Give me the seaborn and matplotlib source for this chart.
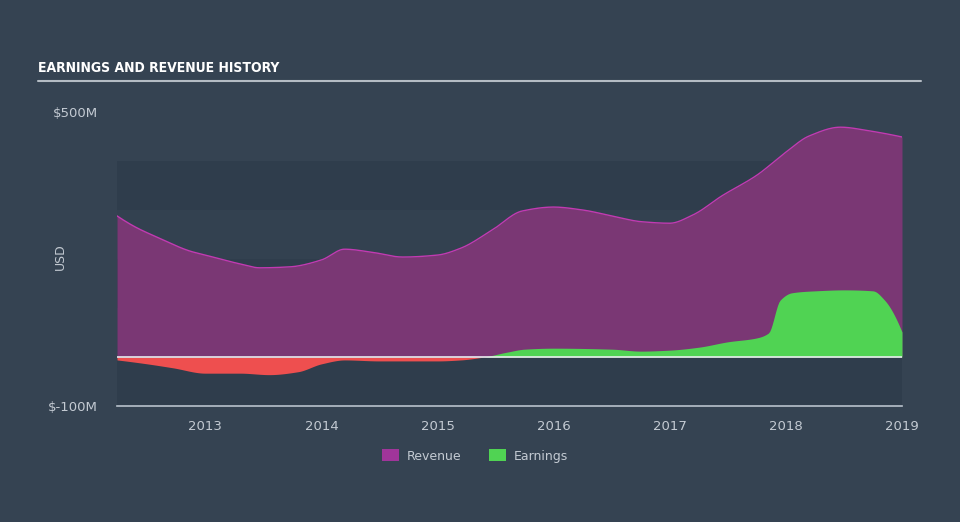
import numpy as np
import pandas as pd
import matplotlib
matplotlib.use("Agg")
import matplotlib.pyplot as plt
import seaborn as sns
from matplotlib.patches import Patch

# ---- data (USD millions) ----
rev_x = [2012.24, 2012.4, 2012.6, 2012.87, 2013.0, 2013.3, 2013.47, 2013.73, 2014.0, 2014.2,
         2014.43, 2014.7, 2015.0, 2015.2, 2015.47, 2015.73, 2016.0, 2016.25, 2016.5, 2016.76,
         2017.0, 2017.2, 2017.45, 2017.75, 2018.0, 2018.2, 2018.47, 2018.73, 2019.0]
revenue = [288, 265, 243, 216, 208, 190, 182, 184, 198, 220,
           214, 204, 208, 222, 259, 298, 306, 300, 288, 276,
           273, 290, 329, 371, 418, 451, 469, 461, 449]

earn_x = [2012.24, 2012.5, 2012.72, 2013.0, 2013.3, 2013.55, 2013.8, 2014.0, 2014.2, 2014.5,
          2015.0, 2015.2, 2015.4, 2015.6, 2015.75, 2016.0, 2016.5, 2016.75, 2017.0, 2017.25,
          2017.5, 2017.75, 2017.85, 2017.95, 2018.05, 2018.25, 2018.5, 2018.75, 2018.85, 2019.0]
earnings = [-6, -14, -22, -33, -33, -36, -30, -14, -6, -8,
            -8, -6, 0, 10, 16, 18, 16, 12, 14, 20,
            31, 39, 49, 116, 131, 135, 137, 135, 116, 51]

series_names = ["Revenue", "Earnings"]
y_tick_vals = [-100, 500]
y_tick_labels = ["$-100M", "$500M"]
x_tick_vals = [2013, 2014, 2015, 2016, 2017, 2018, 2019]

bg = "#354352"
band_dark = "#2f3d4c"
band_light = "#334150"
rev_fill = "#7a3774"
rev_line = "#c23ab2"
earn_fill = "#50d353"
neg_fill = "#ee4f4f"
txt = "#c3cad2"

sns.set_theme(style="white")
plt.rcParams["font.family"] = ["DejaVu Sans"]

fig = plt.figure(figsize=(9.6, 5.22), dpi=100, facecolor=bg)
W, H = 960, 522
ax = fig.add_axes([117 / W, (H - 406) / H, (902 - 117) / W, (406 - 112) / H])
ax.set_facecolor(bg)

xmin, xmax = 2012.24, 2019.0
ax.set_xlim(xmin, xmax)
ax.set_ylim(-100, 500)

# background bands
for lo, hi, c in [(-100, 0, band_dark), (0, 100, band_light), (100, 200, band_dark),
                  (200, 300, band_light), (300, 400, band_dark)]:
    ax.axhspan(lo, hi, color=c, zorder=0, lw=0)

def smooth(xs, ys, n=600):
    s = pd.Series(ys, index=xs)
    grid = np.linspace(xs[0], xs[-1], n)
    idx = s.index.union(grid)
    s2 = s.reindex(idx).interpolate(method="pchip")
    return s2.loc[grid].index.values, s2.loc[grid].values

rx, ry = smooth(rev_x, revenue)
ex, ey = smooth(earn_x, earnings)

ax.fill_between(rx, 0, ry, color=rev_fill, lw=0, zorder=2)
sns.lineplot(x=rx, y=ry, ax=ax, color=rev_line, lw=1.0, zorder=3)
ax.fill_between(ex, 0, ey, where=ey >= 0, interpolate=True, color=earn_fill, lw=0, zorder=4)
ax.fill_between(ex, 0, ey, where=ey <= 0, interpolate=True, color=neg_fill, lw=0, zorder=4)
ax.axhline(0, color="#e8ecef", lw=1.2, zorder=5)

# axes styling
for s in ["top", "right", "left"]:
    ax.spines[s].set_visible(False)
ax.spines["bottom"].set_color("#b8c2cc")
ax.spines["bottom"].set_linewidth(1.2)
ax.set_xticks(x_tick_vals)
ax.set_xticklabels([str(v) for v in x_tick_vals])
ax.tick_params(axis="x", colors="#b8c2cc", length=8, width=1, direction="out",
               labelcolor=txt, labelsize=9.5, pad=2)
ax.set_yticks(y_tick_vals)
ax.set_yticklabels(y_tick_labels)
ax.tick_params(axis="y", length=0, labelcolor=txt, labelsize=9.5, pad=14)
ax.set_xlabel("")
ax.set_ylabel("")
ax.grid(False)

fig.text(60 / W, 1 - 257 / H, "USD", color=txt, fontsize=9, rotation=90,
         ha="center", va="center")

# title and rule
fig.text(38 / W, 1 - 68 / H, "EARNINGS AND REVENUE HISTORY", color="white",
         fontsize=10, fontweight="bold", fontstretch="condensed", va="center", ha="left",
         family=["DejaVu Sans"])
fig.add_artist(plt.Line2D([38 / W, 921 / W], [1 - 81 / H, 1 - 81 / H],
                          color="#b4bcc4", lw=1.5, transform=fig.transFigure))

# legend
handles = [Patch(facecolor="#a0359a", edgecolor="none", label=series_names[0]),
           Patch(facecolor=earn_fill, edgecolor="none", label=series_names[1])]
fig.legend(handles=handles, loc="center", bbox_to_anchor=(475 / W, 1 - 456 / H),
           ncol=2, frameon=False, fontsize=9, labelcolor=txt,
           handlelength=1.4, handleheight=1.1, columnspacing=2.2, handletextpad=0.6)

fig.savefig("out.png", dpi=100, facecolor=bg)
